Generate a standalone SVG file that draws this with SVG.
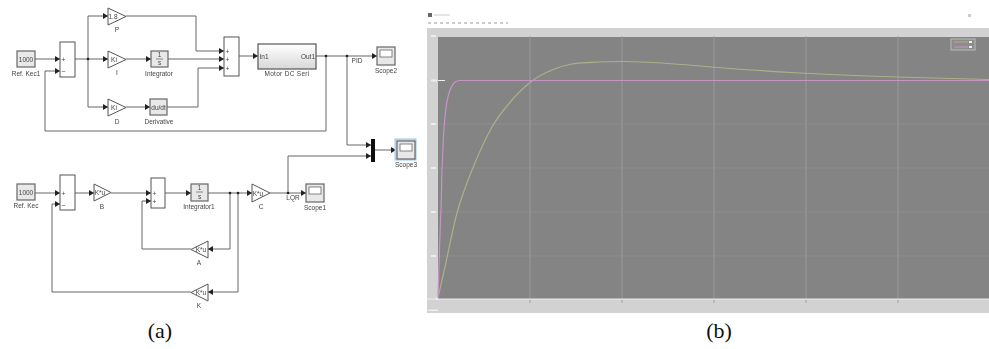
<svg xmlns="http://www.w3.org/2000/svg" width="989" height="349" viewBox="0 0 989 349">
<style>
.b{fill:#fff;stroke:#555;stroke-width:1}
.s{fill:#e8e8e8;stroke:#666;stroke-width:1.2}
.t{font-family:"Liberation Sans",Arial,sans-serif;font-size:6.5px;fill:#444;text-anchor:middle}
.c{fill:none;stroke:#666;stroke-width:1}
</style>
<defs>
<marker id="a" markerUnits="userSpaceOnUse" markerWidth="6" markerHeight="6" refX="5" refY="3" orient="auto"><path d="M0 0L5 3L0 6Z" fill="#222"/></marker>
<linearGradient id="m" x1="0" y1="0" x2="0" y2="1"><stop offset="0" stop-color="#fff"/><stop offset="1" stop-color="#d8d8d8"/></linearGradient>
<filter id="f" x="-5%" y="-5%" width="110%" height="110%"><feGaussianBlur stdDeviation="0.45"/></filter>
<filter id="p" x="-5%" y="-5%" width="110%" height="110%"><feGaussianBlur stdDeviation="0.5"/></filter>
<g id="sc"><rect class="s" width="18" height="18" fill="#eee"/><rect x="3" y="3" width="12" height="7" fill="#fff" stroke="#666" stroke-width=".8"/></g>
</defs>
<rect width="989" height="349" fill="#fff"/>
<g filter="url(#f)">
<g id="connectors" class="c">
<path marker-end="url(#a)" d="M35 59H60"/>
<path marker-end="url(#a)" d="M75 59H108"/>
<path marker-end="url(#a)" d="M88 59V16H108"/>
<path marker-end="url(#a)" d="M88 59V107H108"/>
<path marker-end="url(#a)" d="M126 59H151"/>
<path marker-end="url(#a)" d="M126 107H150"/>
<path marker-end="url(#a)" d="M126 16H196V51H224"/>
<path marker-end="url(#a)" d="M168 59H224"/>
<path marker-end="url(#a)" d="M167 107H198V68H224"/>
<path marker-end="url(#a)" d="M239 56H258"/>
<path marker-end="url(#a)" d="M316 56H377"/>
<path marker-end="url(#a)" d="M326 56V131H45V71H60"/>
<path marker-end="url(#a)" d="M347 56V145H371"/>
<path marker-end="url(#a)" d="M288 193V156H371"/>
<path marker-end="url(#a)" d="M375 150H396"/>
<path marker-end="url(#a)" d="M35 193H60"/>
<path marker-end="url(#a)" d="M75 193H94"/>
<path marker-end="url(#a)" d="M111 193H151"/>
<path marker-end="url(#a)" d="M165 193H191"/>
<path marker-end="url(#a)" d="M208 193H252"/>
<path marker-end="url(#a)" d="M270 193H306"/>
<path marker-end="url(#a)" d="M230 193V249H208"/>
<path marker-end="url(#a)" d="M191 249H142V201H151"/>
<path marker-end="url(#a)" d="M238 193V292H208"/>
<path marker-end="url(#a)" d="M191 292H52V204H60"/>
<g fill="#222" stroke="none"><circle cx="88" cy="59" r="1.3"/><circle cx="326" cy="56" r="1.3"/><circle cx="347" cy="56" r="1.3"/><circle cx="230" cy="193" r="1.3"/><circle cx="238" cy="193" r="1.3"/><circle cx="288" cy="193" r="1.3"/></g>
</g>
<g id="ref-kec1"><rect class="s" x="17" y="51" width="18" height="16"/><text class="t" x="26" y="61.500">1000</text><text class="t" x="26" y="75.500">Ref. Kec1</text></g>
<g id="sum1"><rect class="b" x="60" y="42" width="15" height="35"/><text class="t" x="63.500" y="62">+</text><text class="t" x="63.500" y="73">–</text></g>
<g id="p"><path class="b" d="M108 8L126 16.500L108 25Z"/><text class="t" x="113" y="19">1.8</text><text class="t" x="117" y="32">P</text></g>
<g id="i"><path class="b" d="M108 51L126 59.500L108 68Z"/><text class="t" x="114" y="62">Ki</text><text class="t" x="117" y="75">I</text></g>
<g id="d"><path class="b" d="M108 99L126 107.500L108 116Z"/><text class="t" x="114" y="110">Ki</text><text class="t" x="117" y="124">D</text></g>
<g id="integrator"><rect class="s" x="151" y="51" width="17" height="16"/><text class="t" x="159.500" y="57">1</text><path d="M156 59H163" stroke="#444" stroke-width=".6"/><text class="t" x="159.500" y="65">s</text><text class="t" x="159" y="75.500">Integrator</text></g>
<g id="derivative"><rect class="s" x="150" y="99" width="17" height="16"/><text class="t" x="158.500" y="109.500">du/dt</text><text class="t" x="159" y="124">Derivative</text></g>
<g id="sum2"><rect class="b" x="224" y="37" width="15" height="39"/><text class="t" x="227.500" y="54">+</text><text class="t" x="227.500" y="62">+</text><text class="t" x="227.500" y="71">+</text></g>
<g id="motor"><rect x="258" y="44" width="58" height="25" fill="url(#m)" stroke="#555" stroke-width="1.2"/><text class="t" x="264" y="59">In1</text><text class="t" x="308" y="59">Out1</text><text class="t" x="287" y="75.500" style="letter-spacing:.3px">Motor DC Seri</text></g>
<text class="t" x="357" y="63">PID</text>
<g id="scope2"><use href="#sc" x="377" y="47"/><text class="t" x="386" y="72.500">Scope2</text></g>
<g id="mux"><rect x="371" y="139" width="4" height="23" fill="#111"/></g>
<g id="scope3"><rect x="395" y="139" width="21" height="21" fill="#cfe1f5" stroke="#9cc2ea" stroke-width="1"/><use href="#sc" x="397" y="141"/><text class="t" x="406" y="166.500">Scope3</text></g>
<g id="ref-kec"><rect class="s" x="17" y="184" width="18" height="16"/><text class="t" x="26" y="195">1000</text><text class="t" x="26" y="208">Ref. Kec</text></g>
<g id="sum3"><rect class="b" x="60" y="175" width="15" height="35"/><text class="t" x="63.500" y="196">+</text><text class="t" x="63.500" y="207">–</text></g>
<g id="b"><path class="b" d="M94 184L111 192.500L94 201Z"/><text class="t" x="100" y="195">K*u</text><text class="t" x="102" y="209">B</text></g>
<g id="sum4"><rect class="b" x="151" y="178" width="14" height="30"/><text class="t" x="154.500" y="196">+</text><text class="t" x="154.500" y="204">+</text></g>
<g id="integrator1"><rect class="s" x="191" y="184" width="17" height="17"/><text class="t" x="199.500" y="190">1</text><path d="M196 192H203" stroke="#444" stroke-width=".6"/><text class="t" x="199.500" y="199">s</text><text class="t" x="199" y="209">Integrator1</text></g>
<g id="c"><path class="b" d="M252 184L270 193L252 202Z"/><text class="t" x="258" y="195.500">K*u</text><text class="t" x="261" y="209">C</text></g>
<text class="t" x="293" y="199.500">LQR</text>
<g id="scope1"><use href="#sc" x="306" y="184"/><text class="t" x="315" y="209.500">Scope1</text></g>
<g id="a-gain"><path class="b" d="M208 241L191 249.500L208 258Z"/><text class="t" x="201" y="252">K*u</text><text class="t" x="199" y="265">A</text></g>
<g id="k"><path class="b" d="M208 284L191 292.500L208 301Z"/><text class="t" x="201" y="295">K*u</text><text class="t" x="199" y="308">K</text></g>
</g>
<g id="plot" filter="url(#p)">
<rect x="427" y="28" width="562" height="285" fill="#d2d2d2"/>
<rect x="438" y="37" width="551" height="262" fill="#848484"/>
<path d="M530 36V303M622 36V303M714 36V303M806 36V303M898 36V303" stroke="#9c9c9c" stroke-width=".9"/>
<path d="M438 124H989M438 168H989M438 212H989M438 256H989" stroke="#8f8f8f" stroke-width=".9"/>
<rect x="427" y="298.500" width="562" height="1.200" fill="#e8e8e8"/>
<rect x="428" y="13" width="4" height="4" fill="#666"/>
<rect x="434" y="14" width="16" height="2" fill="#e4e4e4"/>
<path d="M428 23H508" stroke="#ccc" stroke-width="2" stroke-dasharray="3 3"/>
<g fill="#eee"><rect x="431" y="35" width="5" height="2"/><rect x="431" y="79.500" width="6" height="2"/><rect x="431" y="123" width="5" height="2"/><rect x="431" y="167" width="5" height="2"/><rect x="431" y="211" width="5" height="2"/><rect x="431" y="255" width="5" height="2"/><rect x="436" y="297" width="2" height="3"/><rect x="428" y="309.500" width="10" height="1.500"/></g>
<path d="M438 80.500H445" stroke="#eee" stroke-width="1"/>
<path fill="none" stroke="#aeb088" stroke-width="1.200" d="M438 298C439 293 441.800 281.200 445 267C448.200 252.800 452.500 229.200 457 213C461.500 196.800 466.200 184.300 472 170C477.800 155.700 485.300 138.700 492 127C498.700 115.300 505.300 107.700 512 100C518.700 92.300 525.300 86 532 81C538.700 76 545.300 72.800 552 70C558.700 67.200 564.300 65.300 572 64C579.700 62.700 589.200 62.400 598 62C606.800 61.600 614.700 61.400 625 61.500C645 61.700 675 63.700 700 66C722 68 765 71 800 73C835 75 865 76 897 77C930 78 960 79 989 79.500"/>
<path fill="none" stroke="#c794c6" stroke-width="1.200" d="M438 298C439.500 250 440 230 441 210C441.700 190 441.500 175 442.500 160C443 145 443.500 130 445 117C446 105 447.500 97 450 90C452 85 454 81 459 80.500H989"/>
<rect x="951" y="39" width="24" height="11" fill="#8c8c8c" stroke="#bbb" stroke-width="1"/>
<path d="M954 42H968" stroke="#aeb088"/><path d="M954 47H968" stroke="#c794c6"/>
<rect x="969" y="41" width="3" height="2" fill="#eee"/><rect x="969" y="46" width="3" height="2" fill="#eee"/>
<rect x="968" y="14" width="3" height="3" fill="#ccc"/>
</g>
<g font-family="Liberation Serif,Times New Roman,serif" font-size="22" fill="#111" text-anchor="middle">
<text x="160" y="338">(a)</text><text x="719" y="338">(b)</text>
</g>
</svg>
